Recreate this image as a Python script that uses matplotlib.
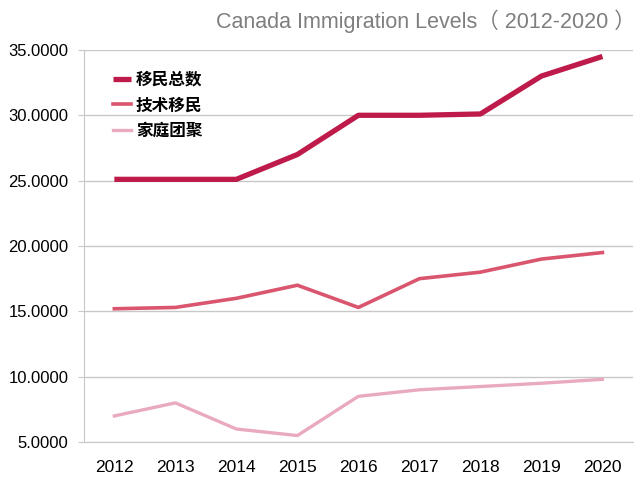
import numpy as np
from matplotlib import pyplot as plt

plt.rcParams['font.family'] = ['Liberation Sans', 'Noto Sans CJK SC', 'DejaVu Sans']

years = ['2012', '2013', '2014', '2015', '2016', '2017', '2018', '2019', '2020']
total = [25.1, 25.1, 25.1, 27.0, 30.0, 30.0, 30.1, 33.0, 34.5]
skilled = [15.2, 15.3, 16.0, 17.0, 15.3, 17.5, 18.0, 19.0, 19.5]
family = [7.0, 8.0, 6.0, 5.5, 8.5, 9.0, 9.25, 9.5, 9.8]
labels = ['移民总数', '技术移民', '家庭团聚']

fig = plt.figure(figsize=(6.4, 4.8), dpi=100)
ax = fig.add_axes([0.131, 0.079, 0.858, 0.817])

x = np.arange(len(years))
ax.plot(x, total, color='#BE1A4A', lw=3.8, solid_capstyle='butt', label=labels[0])
ax.plot(x, skilled, color='#D9566E', lw=2.6, label=labels[1])
ax.plot(x, family, color='#EAAABD', lw=2.4, label=labels[2])

ax.set_xlim(-0.5, len(years) - 0.5)
ax.set_ylim(5, 35)
ax.set_yticks(np.arange(5, 36, 5))
ax.set_yticklabels(['%.4f' % v for v in np.arange(5, 36, 5)])
ax.set_xticks(x)
ax.set_xticklabels(years)
ax.yaxis.grid(True, color='#C8C8C8', lw=1)
ax.set_axisbelow(True)
for s in ['top', 'right']:
    ax.spines[s].set_visible(False)
for s in ['left', 'bottom']:
    ax.spines[s].set_color('#C8C8C8')
ax.tick_params(axis='y', length=4, color='#C8C8C8', labelsize=12, pad=7)
ax.tick_params(axis='x', length=0, labelsize=12.5, pad=13)

leg = ax.legend(loc='upper left', bbox_to_anchor=(0.025, 0.985), frameon=False,
                handlelength=1.1, handletextpad=0.3, labelspacing=0.45,
                prop={'family': ['Noto Sans CJK SC'], 'weight': 'bold', 'size': 12})

fig.text(0.993, 0.955, 'Canada Immigration Levels（ 2012-2020 ）', ha='right', va='center',
         color='#7F7F7F', fontsize=15.5, family=['Liberation Sans', 'Noto Sans CJK SC'])

plt.savefig('out.png')
